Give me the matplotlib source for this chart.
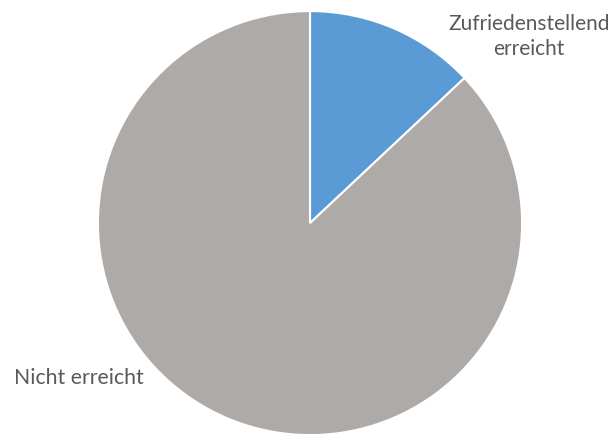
import matplotlib.pyplot as plt

labels = ["Zufriedenstellend\nerreicht", "Nicht erreicht"]
values = [13, 87]
colors = ["#5B9BD5", "#ADAAA8"]

fig = plt.figure(figsize=(6.16, 4.35), dpi=100)
ax = fig.add_axes([0, 0, 1, 1])

wedges, _ = ax.pie(values, colors=colors, startangle=90, counterclock=False,
                   wedgeprops=dict(edgecolor="white", linewidth=1.5))
ax.set_aspect("auto")
ax.set_xlim(-1.462, 1.443)
ax.set_ylim(-0.995, 1.057)
ax.axis("off")

# labels placed like Excel's best-fit
ax.text(1.033, 0.885, labels[0], ha="center", va="center", fontsize=15,
        color="#595959", family="Lato", linespacing=1.3)
ax.text(-1.396, -0.726, labels[1], ha="left", va="center", fontsize=15.3,
        color="#595959", family="Lato")

fig.savefig("out.png", dpi=100)
